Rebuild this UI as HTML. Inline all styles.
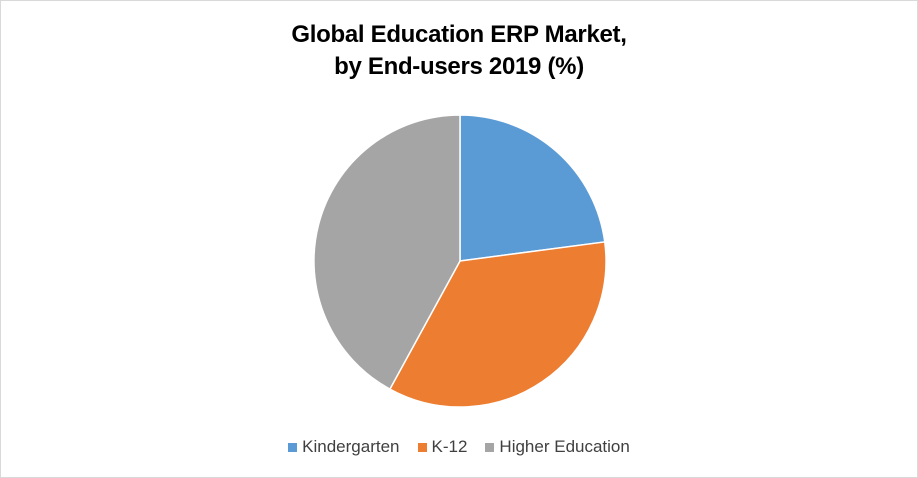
<!DOCTYPE html>
<html><head><style>
body{margin:0;background:#fff;}
.c{position:relative;width:916px;height:476px;border:1px solid #d9d9d9;background:#fff;font-family:"Liberation Sans",sans-serif;}
.t{position:absolute;left:0;width:916px;top:18px;text-align:center;font-weight:bold;font-size:24px;line-height:32px;color:#000;letter-spacing:-0.3px;}
.lg{position:absolute;top:436px;left:0;width:916px;text-align:center;font-size:17px;color:#404040;}
.lg span{display:inline-block;margin:0 9px;}
.lg i{display:inline-block;width:9px;height:9px;margin-right:5px;}
</style></head><body>
<div class="c">
<div class="t">Global Education ERP Market,<br>by End-users 2019 (%)</div>
<svg width="916" height="476" style="position:absolute;left:0;top:0">
<g stroke="#fff" stroke-width="1.5">
<path d="M459,260 L459,114 A146,146 0 0 1 603.75,240.94 Z" fill="#5b9bd5"/>
<path d="M459,260 L603.75,240.94 A146,146 0 0 1 388.9,388.1 Z" fill="#ed7d31"/>
<path d="M459,260 L388.9,388.1 A146,146 0 0 1 459,114 Z" fill="#a5a5a5"/>
</g>
</svg>
<div class="lg"><span><i style="background:#5b9bd5"></i>Kindergarten</span><span><i style="background:#ed7d31"></i>K-12</span><span><i style="background:#a5a5a5"></i>Higher Education</span></div>
</div>
</body></html>
